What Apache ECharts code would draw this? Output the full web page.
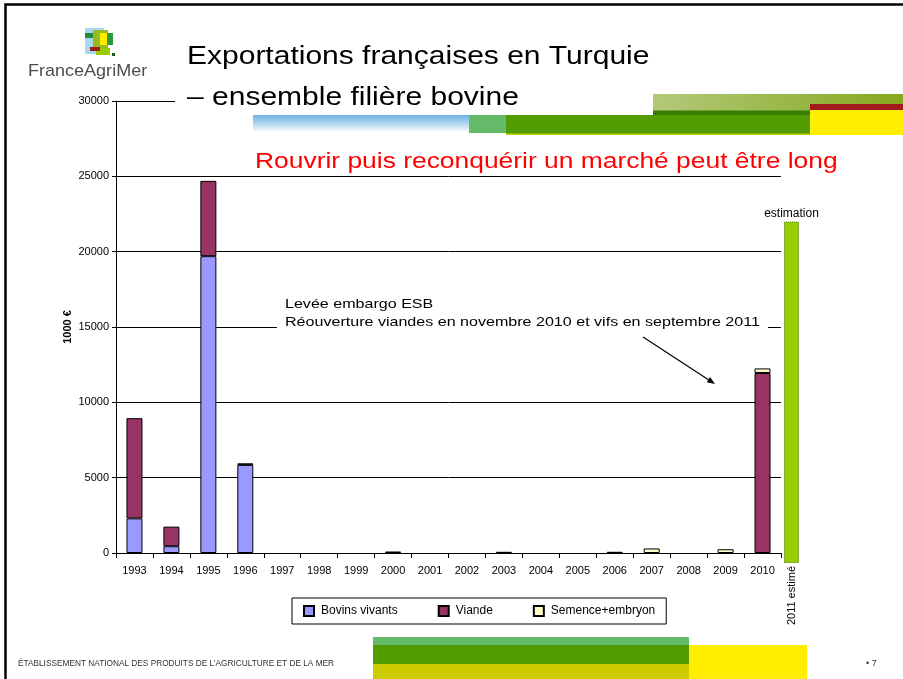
<!DOCTYPE html>
<html>
<head>
<meta charset="utf-8">
<title>Exportations françaises en Turquie</title>
<script src="https://cdn.jsdelivr.net/npm/echarts@6/dist/echarts.min.js"></script>
<style>
  html, body { margin: 0; padding: 0; background: #fff; }
  #chart { width: 903px; height: 679px; }
</style>
</head>
<body>
<div id="chart"></div>
<script>
// ---------- données (1000 €) ----------
const years = ['1993', '1994', '1995', '1996', '1997', '1998', '1999', '2000', '2001',
  '2002', '2003', '2004', '2005', '2006', '2007', '2008', '2009', '2010'];
const bovinsVivants = [2300, 450, 19700, 5850, null, null, null, null, null,
  null, null, null, null, null, null, null, null, null];
const viande = [6650, 1300, 5000, 100, null, null, null, 100, null,
  null, 80, null, null, 80, null, null, null, 11950];
const semence = [null, null, null, null, null, null, null, null, null,
  null, null, null, null, null, 300, null, 250, 300];
const estimCategory = ['2011 estimé'];
const estimValue = [22000];
const yTicks = { min: 0, max: 30000, interval: 5000 };

const FONT = 'Liberation Sans, Arial, sans-serif';
const SX = 1.2; // le texte de la diapo est étiré horizontalement

// texte de la diapositive
function slideText(x, y, text, size, color, scaleX) {
  return {
    type: 'text', x: x, y: y, scaleX: scaleX || SX, z: 20,
    style: { text: text, fontSize: size, fontFamily: FONT, fill: color || '#000',
      align: 'left', verticalAlign: 'middle' }
  };
}
function band(x, y, w, h, fill, z) {
  return { type: 'rect', z: z === undefined ? 1 : z, silent: true,
    shape: { x: x, y: y, width: w, height: h }, style: { fill: fill } };
}

const graphics = [
  // cadre de la diapo
  { type: 'rect', z: 30, shape: { x: 5.5, y: 4.5, width: 1000, height: 1000 },
    style: { fill: 'none', stroke: '#000', lineWidth: 2.5 } },
  // logo
  band(85, 28, 19, 26, '#a8d8f0', 20),
  band(85, 33, 15, 5, '#1e8c3a', 21),
  band(93, 30, 15, 18, '#99bb22', 21),
  band(100, 33, 7, 12, '#ffee00', 22),
  band(107, 33, 6, 12, '#2e9a3a', 22),
  band(90, 47, 10, 4, '#a01c1c', 22),
  band(96, 48, 14, 7, '#99cc00', 21),
  band(112, 53, 3, 3, '#1a5a20', 22),
  slideText(28, 71, 'FranceAgriMer', 17, '#4d4d4d', 1.06),
  // bandeau haut
  { type: 'rect', z: 1, shape: { x: 653, y: 94, width: 250, height: 17 },
    style: { fill: new echarts.graphic.LinearGradient(0, 0, 1, 0,
      [{ offset: 0, color: '#b3c97a' }, { offset: 1, color: '#86a81e' }]) } },
  band(653, 110.5, 157, 5, '#367d00'),
  band(810, 104, 93, 6.5, '#a31a1a'),
  band(810, 110, 93, 25, '#ffee00'),
  { type: 'rect', z: 1, shape: { x: 253, y: 115, width: 216, height: 16 },
    style: { fill: new echarts.graphic.LinearGradient(0, 0, 0, 1,
      [{ offset: 0, color: '#6cb2e2' }, { offset: 1, color: '#eef7fc' }]) } },
  band(469, 115, 37, 18, '#66bb6a'),
  band(506, 133, 304, 2, '#c8cc00'),
  band(506, 115, 304, 18.5, '#529c00'),
  // bandeau bas
  band(373, 637, 316, 8, '#66bb6a'),
  band(373, 645, 316, 19, '#529c00'),
  band(373, 664, 316, 15, '#cccc00'),
  band(689, 645, 118, 34, '#ffee00'),
  // cache blanc sous le titre et l'annotation
  band(175, 88, 478, 24, '#fff', 10),
  band(277, 294, 491, 40, '#fff', 10),
  // titres
  slideText(187, 57, 'Exportations françaises en Turquie', 25),
  slideText(187, 98, '– ensemble filière bovine', 25),
  slideText(255, 162, 'Rouvrir puis reconquérir un marché peut être long', 22, '#ff0000'),
  slideText(285, 304, 'Levée embargo ESB', 13.4),
  slideText(285, 322, 'Réouverture viandes en novembre 2010 et vifs en septembre 2011', 13.4),
  slideText(18, 664, 'ÉTABLISSEMENT NATIONAL DES PRODUITS DE L\u2019AGRICULTURE ET DE LA MER', 9, '#333', 0.92),
  slideText(866, 664, '• 7', 9, '#333', 1),
  // flèche
  { type: 'line', z: 20, shape: { x1: 643, y1: 337, x2: 708.5, y2: 379.7 },
    style: { stroke: '#000', lineWidth: 1.2 } },
  { type: 'polygon', z: 20, shape: { points: [[715, 384], [706.7, 382.3], [710, 377.1]] },
    style: { fill: '#000' } }
];

const chart = echarts.init(document.getElementById('chart'));
chart.setOption({
  backgroundColor: '#fff',
  animation: false,
  textStyle: { fontFamily: FONT },
  grid: [
    { left: 116, right: 122, top: 101, bottom: 126 },
    { left: 784, width: 15, top: 101, bottom: 116 }
  ],
  legend: {
    data: ['Bovins vivants', 'Viande', 'Semence+embryon'],
    left: 292, top: 598,
    padding: [7, 11, 7, 11],
    itemGap: 40, itemWidth: 10, itemHeight: 10,
    borderColor: '#000', borderWidth: 1, borderRadius: 0,
    icon: 'rect',
    textStyle: { fontSize: 12, color: '#000', fontFamily: FONT, padding: [0, 0, 0, 2] }
  },
  xAxis: [
    {
      type: 'category', gridIndex: 0, data: years,
      axisLine: { lineStyle: { color: '#000', width: 1 } },
      axisTick: { show: true, length: 5, lineStyle: { color: '#000' } },
      axisLabel: { fontSize: 11, color: '#000', margin: 12, interval: 0 }
    },
    {
      type: 'category', gridIndex: 1, data: estimCategory,
      axisLine: { show: false }, axisTick: { show: false },
      axisLabel: { rotate: 90, fontSize: 11, color: '#000', margin: 3 }
    }
  ],
  yAxis: [
    {
      type: 'value', gridIndex: 0,
      min: yTicks.min, max: yTicks.max, interval: yTicks.interval,
      name: '1000 €', nameLocation: 'middle', nameGap: 43, nameMoveOverlap: false,
      nameTextStyle: { fontSize: 11, fontWeight: 'bold', color: '#000' },
      axisLine: { show: true, lineStyle: { color: '#000' } },
      axisTick: { show: true, length: 4, lineStyle: { color: '#000' } },
      axisLabel: { fontSize: 11, color: '#000', margin: 7, formatter: v => String(v) },
      splitLine: { lineStyle: { color: '#000', width: 1 } }
    },
    { type: 'value', gridIndex: 1, min: 0, max: 29763, show: false, splitLine: { show: false } }
  ],
  series: [
    {
      name: 'Bovins vivants', type: 'bar', stack: 'total', barWidth: 16, z: 3,
      itemStyle: { color: '#9999ff', borderColor: '#000', borderWidth: 1 },
      data: bovinsVivants
    },
    {
      name: 'Viande', type: 'bar', stack: 'total', barWidth: 16, z: 3,
      itemStyle: { color: '#993366', borderColor: '#000', borderWidth: 1 },
      data: viande
    },
    {
      name: 'Semence+embryon', type: 'bar', stack: 'total', barWidth: 16, z: 3,
      itemStyle: { color: '#ffffcc', borderColor: '#000', borderWidth: 1 },
      data: semence
    },
    {
      name: 'estimation', type: 'bar', xAxisIndex: 1, yAxisIndex: 1, barWidth: '100%', z: 3,
      itemStyle: { color: '#99cc00', borderColor: '#447700', borderWidth: 1, borderType: 'dotted' },
      label: { show: true, position: 'top', distance: 2, formatter: 'estimation',
        fontSize: 12, color: '#000' },
      data: estimValue
    }
  ],
  graphic: graphics
});
</script>
</body>
</html>
